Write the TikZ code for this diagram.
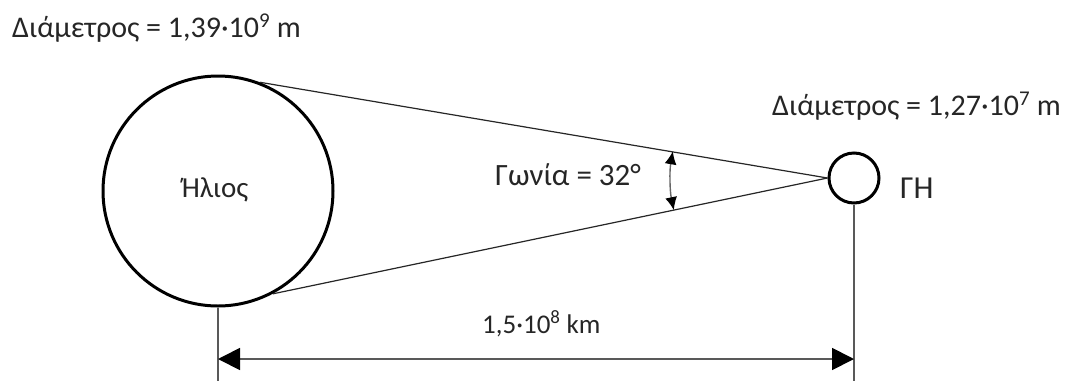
\documentclass[tikz,border=0pt]{standalone}
\usepackage{fontspec}
\setmainfont{Carlito}
\usetikzlibrary{arrows.meta,calc}
\begin{document}
\begin{tikzpicture}[x=1pt,y=-1pt,
  body/.style={circle,draw=black,line width=3pt,inner sep=0pt},
  thin/.style={draw=black!85,line width=1.2pt},
  dim/.style={draw=black!65,line width=1.8pt},
  lbl/.style={inner sep=0pt,anchor=base west,text=black!85,font=\fontsize{30}{34}\selectfont}]
\useasboundingbox[fill=white] (0,0) rectangle (1065,381);
\node[body,minimum size=230pt] (sun) at (218,191) {};
\node[body,minimum size=50pt] (earth) at (854,178) {};
\node[lbl,anchor=base,font=\fontsize{29}{34}\selectfont] (sunlbl) at (215,197) {Ήλιος};
\node[lbl,font=\fontsize{32}{36}\selectfont] (earthlbl) at (900,198) {ΓΗ};
\node[lbl] (dsun) at (12,37) {Διάμετρος = 1,39·10\textsuperscript{9} m};
\node[lbl] (dearth) at (772,115) {Διάμετρος = 1,27·10\textsuperscript{7} m};
\node[lbl,font=\fontsize{31}{36}\selectfont] (angle) at (495,185) {Γωνία = 32°};
\node[lbl,font=\fontsize{27}{32}\selectfont] (dist) at (482,333) {1,5·10\textsuperscript{8} km};
\draw[thin] (earth.west) -- (sun.69);
\draw[thin] (earth.west) -- (sun.-62);
\draw[draw=black!60,line width=1.4pt,{Latex[length=13pt,width=12pt,fill=black,color=black]}-{Latex[length=13pt,width=12pt,fill=black,color=black]}]
  ($(earth.west)+(-154.7,-26.7)$) arc[start angle=189.8,end angle=168.2,radius=157];
\coordinate (sunfoot) at (218,381);
\coordinate (earthfoot) at (854,381);
\coordinate (dl) at (218,359);
\coordinate (dr) at (854,359);
\draw[dim] (sun.south) -- (sunfoot);
\draw[dim] (earth.south) -- (earthfoot);
\draw[dim,{Triangle[length=22pt,width=22pt,black]}-{Triangle[length=22pt,width=22pt,black]}] (dl) -- (dr);
\end{tikzpicture}
\end{document}
